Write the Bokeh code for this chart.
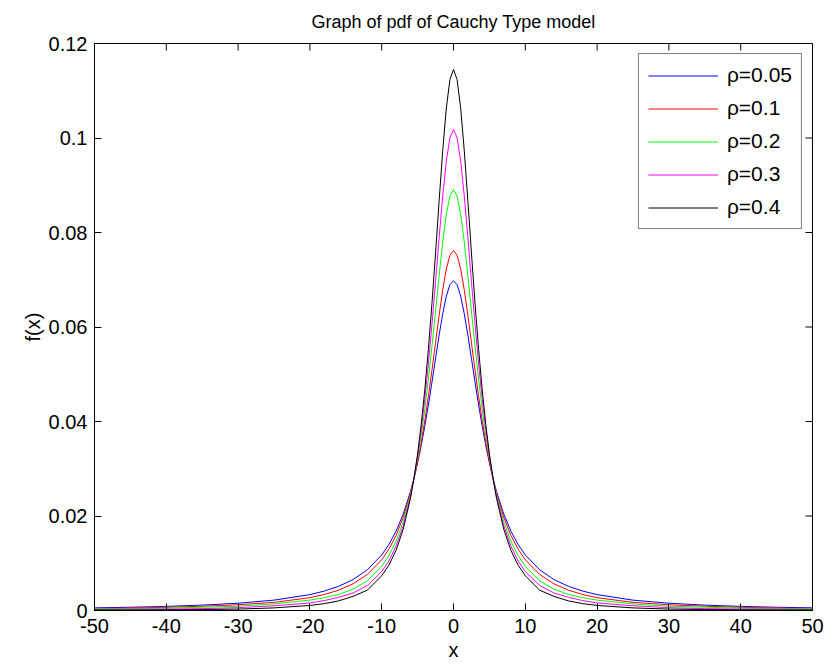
import math
from bokeh.plotting import figure
from bokeh.models import Range1d, FixedTicker, PrintfTickFormatter, Legend, LegendItem
from bokeh.embed import file_html
from bokeh.resources import INLINE

# ---------------- data ----------------
x = [-50, -45, -40, -35, -30, -25, -20, -18, -16, -14, -12, -10, -9, -8, -7, -6,
     -5.5, -5, -4.5, -4, -3.5, -3, -2.5, -2, -1.5, -1, -0.5,
     0,
     0.5, 1, 1.5, 2, 2.5, 3, 3.5, 4, 4.5, 5, 5.5, 6, 7, 8, 9, 10, 12, 14, 16,
     18, 20, 25, 30, 35, 40, 45, 50]

rho_005 = [0.00056, 0.00069, 0.00087, 0.00114, 0.00154, 0.00219, 0.00336, 0.00411,
           0.00512, 0.00654, 0.00861, 0.01175, 0.01396, 0.01678, 0.02041, 0.02513,
           0.02799, 0.03124, 0.0349, 0.03899, 0.04349, 0.04832, 0.05334, 0.05829,
           0.06282, 0.06652, 0.06895,
           0.0698,
           0.06895, 0.06652, 0.06282, 0.05829, 0.05334, 0.04832, 0.04349, 0.03899,
           0.0349, 0.03124, 0.02799, 0.02513, 0.02041, 0.01678, 0.01396, 0.01175,
           0.00861, 0.00654, 0.00512, 0.00411, 0.00336, 0.00219, 0.00154, 0.00114,
           0.00087, 0.00069, 0.00056]

rho_01 = [0.0004, 0.00052, 0.00068, 0.0009, 0.00122, 0.00172, 0.00271, 0.00338,
          0.0043, 0.00563, 0.00762, 0.01074, 0.01298, 0.01588, 0.01971, 0.02477,
          0.02789, 0.03147, 0.03555, 0.04016, 0.04528, 0.05085, 0.05668, 0.06249,
          0.06786, 0.07227, 0.07518,
          0.0762,
          0.07518, 0.07227, 0.06786, 0.06249, 0.05668, 0.05085, 0.04528, 0.04016,
          0.03555, 0.03147, 0.02789, 0.02477, 0.01971, 0.01588, 0.01298, 0.01074,
          0.00762, 0.00563, 0.0043, 0.00338, 0.00271, 0.00172, 0.00122, 0.0009,
          0.00068, 0.00052, 0.0004]

rho_02 = [0.0004, 0.0004, 0.0005, 0.0007, 0.0009, 0.0014, 0.0022, 0.0027,
          0.0034, 0.0045, 0.00628, 0.00933, 0.0116, 0.01464, 0.01876, 0.02442,
          0.028, 0.03217, 0.03702, 0.04261, 0.04893, 0.05592, 0.06337, 0.07091,
          0.07797, 0.08382, 0.08773,
          0.0891,
          0.08773, 0.08382, 0.07797, 0.07091, 0.06337, 0.05592, 0.04893, 0.04261,
          0.03702, 0.03217, 0.028, 0.02442, 0.01876, 0.01464, 0.0116, 0.00933,
          0.00628, 0.0045, 0.0034, 0.0027, 0.0022, 0.0014, 0.0009, 0.0007,
          0.0005, 0.0004, 0.0004]

rho_03 = [0.0002, 0.0003, 0.0003, 0.0004, 0.0006, 0.001, 0.0016, 0.0021,
          0.0028, 0.0037, 0.00529, 0.00822, 0.01048, 0.01359, 0.01792, 0.02404,
          0.028, 0.03269, 0.03824, 0.04472, 0.05218, 0.06056, 0.06962, 0.07892,
          0.08772, 0.0951, 0.10005,
          0.1018,
          0.10005, 0.0951, 0.08772, 0.07892, 0.06962, 0.06056, 0.05218, 0.04472,
          0.03824, 0.03269, 0.028, 0.02404, 0.01792, 0.01359, 0.01048, 0.00822,
          0.00529, 0.0037, 0.0028, 0.0021, 0.0016, 0.001, 0.0006, 0.0004,
          0.0003, 0.0003, 0.0002]

rho_04 = [0.0001, 0.00012, 0.00015, 0.0002, 0.0003, 0.00055, 0.00107, 0.00145,
          0.00204, 0.00298, 0.0043, 0.00735, 0.00958, 0.01272, 0.01721, 0.02371,
          0.028, 0.03316, 0.03934, 0.04667, 0.05523, 0.06496, 0.07564, 0.08673,
          0.09734, 0.1063, 0.11236,
          0.1145,
          0.11236, 0.1063, 0.09734, 0.08673, 0.07564, 0.06496, 0.05523, 0.04667,
          0.03934, 0.03316, 0.028, 0.02371, 0.01721, 0.01272, 0.00958, 0.00735,
          0.0043, 0.00298, 0.00204, 0.00145, 0.00107, 0.00055, 0.0003, 0.0002,
          0.00015, 0.00012, 0.0001]

series_labels = ["ρ=0.05", "ρ=0.1", "ρ=0.2", "ρ=0.3", "ρ=0.4"]
series_values = [rho_005, rho_01, rho_02, rho_03, rho_04]
series_colors = ["#0000ff", "#ff0000", "#00ff00", "#ff00ff", "#000000"]

x_ticks = [-50, -40, -30, -20, -10, 0, 10, 20, 30, 40, 50]
y_ticks = [0, 0.02, 0.04, 0.06, 0.08, 0.1, 0.12]
x_min, x_max = -50, 50
y_min, y_max = 0, 0.12

title_text = "Graph of pdf of Cauchy Type model"
x_label = "x"
y_label = "f(x)"

# ---------------- figure ----------------
FONT = "Liberation Sans"
TICK_SIZE = "20px"

p = figure(width=826, height=668, output_backend="svg", toolbar_location=None,
           x_range=Range1d(x_min, x_max), y_range=Range1d(y_min, y_max),
           min_border_left=94, min_border_right=14, min_border_top=43,
           min_border_bottom=58, title=title_text)

p.title.align = "center"
p.title.vertical_align = "top"
p.title.text_font = FONT
p.title.text_font_size = "18px"
p.title.text_font_style = "normal"
p.title.text_color = "black"
p.title.standoff = 20

p.xgrid.visible = False
p.ygrid.visible = False
p.outline_line_color = "black"
p.outline_line_width = 1
p.background_fill_color = "white"
p.border_fill_color = "white"

def style_axis(ax, ticks):
    ax.ticker = FixedTicker(ticks=ticks)
    ax.minor_tick_line_color = None
    ax.major_tick_in = 7
    ax.major_tick_out = 0
    ax.axis_line_color = "black"
    ax.major_tick_line_color = "black"
    ax.major_label_text_font = FONT
    ax.major_label_text_font_size = TICK_SIZE
    ax.major_label_text_color = "black"
    ax.axis_label_text_font = FONT
    ax.axis_label_text_font_size = TICK_SIZE
    ax.axis_label_text_font_style = "normal"
    ax.axis_label_text_color = "black"

style_axis(p.xaxis[0], x_ticks)
p.xaxis[0].axis_label = x_label
p.xaxis[0].major_label_standoff = 8
p.xaxis[0].axis_label_standoff = 3
p.xaxis[0].formatter = PrintfTickFormatter(format="%d")

style_axis(p.yaxis[0], y_ticks)
p.yaxis[0].axis_label = y_label
p.yaxis[0].major_label_standoff = 7
p.yaxis[0].axis_label_standoff = 2
p.yaxis[0].formatter = PrintfTickFormatter(format="%g")

# inward tick marks on the top and right edges of the box (MATLAB style)
p.ray(x=x_ticks, y=[y_max] * len(x_ticks), length=7, length_units="screen",
      angle=-math.pi / 2, line_color="black", line_width=1)
p.ray(x=[x_max] * len(y_ticks), y=y_ticks, length=7, length_units="screen",
      angle=math.pi, line_color="black", line_width=1)

items = []
for lab, vals, col in zip(series_labels, series_values, series_colors):
    r = p.line(x, vals, line_color=col, line_width=1)
    items.append(LegendItem(label=lab, renderers=[r]))

legend = Legend(items=items, location="top_right")
legend.border_line_color = "black"
legend.border_line_width = 1
legend.background_fill_color = "white"
legend.background_fill_alpha = 1
legend.label_text_font = FONT
legend.label_text_font_size = "21px"
legend.label_text_color = "black"
legend.glyph_width = 70
legend.glyph_height = 21
legend.label_height = 21
legend.label_standoff = 9
legend.spacing = 9
legend.padding = 9
legend.margin = 10
p.add_layout(legend, "center")

html = file_html(p, INLINE)
with open("out.html", "w") as f:
    f.write(html)
